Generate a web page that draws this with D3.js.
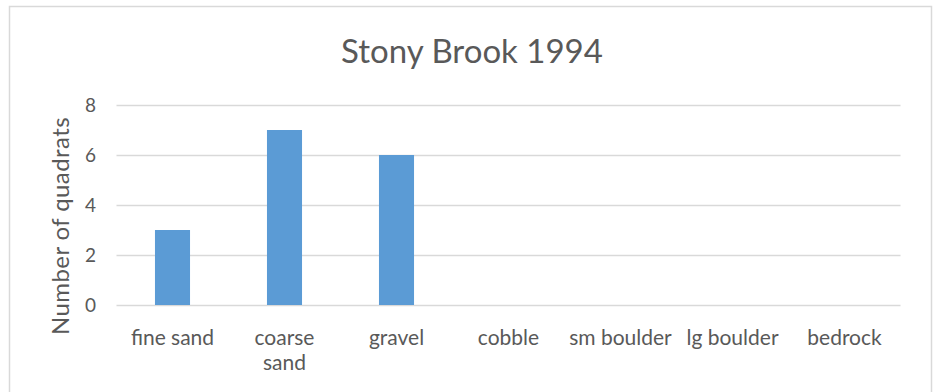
<!DOCTYPE html>
<html>
<head>
<meta charset="utf-8">
<script src="https://cdn.jsdelivr.net/npm/d3@7"></script>
<style>
  body { margin: 0; background: #fff; }
  svg { display: block; }
  text { font-family: Lato, "Open Sans", sans-serif; fill: #595959; }
</style>
</head>
<body>
<svg width="933" height="392"></svg>
<script>
const categories = ['fine sand', 'coarse sand', 'gravel', 'cobble', 'sm boulder', 'lg boulder', 'bedrock'];
const counts = [3, 7, 6, 0, 0, 0, 0];
const yTicks = [0, 2, 4, 6, 8];
// how Excel wrapped the category labels
const xLabels = [['fine sand'], ['coarse', 'sand'], ['gravel'], ['cobble'], ['sm boulder'], ['lg boulder'], ['bedrock']];

const svg = d3.select('svg');
const margin = { left: 116.5, right: 32.5, top: 105, bottom: 87 };
const width = 933, height = 392;

// chart frame
svg.append('rect')
  .attr('x', 9.5).attr('y', 6.5)
  .attr('width', 922).attr('height', 420)
  .attr('fill', '#fff')
  .attr('stroke', '#d9d9d9')
  .attr('stroke-width', 1.5);

const x = d3.scaleBand()
  .domain(categories)
  .range([margin.left, width - margin.right])
  .paddingInner(0.687)
  .paddingOuter(0.3435);

const y = d3.scaleLinear()
  .domain([0, 8])
  .range([height - margin.bottom, margin.top]);

// gridlines
svg.append('g')
  .selectAll('line')
  .data(yTicks)
  .enter()
  .append('line')
  .attr('x1', margin.left)
  .attr('x2', width - margin.right)
  .attr('y1', (d) => Math.round(y(d)) + 0.5)
  .attr('y2', (d) => Math.round(y(d)) + 0.5)
  .attr('stroke', '#d9d9d9')
  .attr('stroke-width', 1.5);

// y tick labels
svg.append('g')
  .selectAll('text')
  .data(yTicks)
  .enter()
  .append('text')
  .attr('x', 96)
  .attr('y', (d) => y(d))
  .attr('dy', '0.35em')
  .attr('text-anchor', 'end')
  .style('font-size', '19px')
  .text((d) => d);

// bars
svg.append('g')
  .selectAll('rect')
  .data(counts)
  .enter()
  .append('rect')
  .attr('x', (d, i) => x(categories[i]))
  .attr('y', (d) => y(d))
  .attr('width', x.bandwidth())
  .attr('height', (d) => y(0) - y(d))
  .attr('fill', '#5b9bd5');

// x labels
const xl = svg.append('g')
  .selectAll('text')
  .data(categories)
  .enter()
  .append('text')
  .attr('x', (d) => x(d) + x.bandwidth() / 2)
  .attr('y', 345)
  .attr('text-anchor', 'middle')
  .style('font-size', '21px');

xl.each(function (d, i) {
  const t = d3.select(this);
  xLabels[i].forEach((line, j) => {
    t.append('tspan')
      .attr('x', x(d) + x.bandwidth() / 2)
      .attr('dy', j === 0 ? 0 : 25)
      .text(line);
  });
});

// y axis title
svg.append('text')
  .attr('transform', 'translate(69,226) rotate(-90)')
  .attr('text-anchor', 'middle')
  .style('font-size', '24px')
  .style('letter-spacing', '0.4px')
  .text('Number of quadrats');

// chart title
svg.append('text')
  .attr('x', 472)
  .attr('y', 63)
  .attr('text-anchor', 'middle')
  .style('font-size', '33px')
  .text('Stony Brook 1994');
</script>
</body>
</html>
